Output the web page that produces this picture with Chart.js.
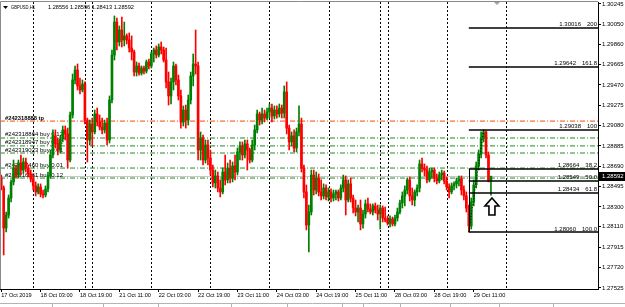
<!DOCTYPE html>
<html>
<head>
<meta charset="utf-8">
<title>GBPUSD,H1</title>
<script src="https://cdn.jsdelivr.net/npm/chart.js@4.4.1/dist/chart.umd.min.js"></script>
<style>
  html, body { margin: 0; padding: 0; background: #fff; }
  #wrap { width: 625px; height: 307px; }
</style>
</head>
<body>
<div id="wrap"><canvas id="mtChart" width="625" height="307"></canvas></div>
<script>
// GBPUSD H1 bars, 17 Oct 11:00 .. 29 Oct 18:00
const opens = [
  1.28577, 1.28482, 1.28098, 1.28223, 1.28386, 1.28540, 1.28673, 1.28606, 1.28721, 1.28654,
  1.28731, 1.28673, 1.28616, 1.28568, 1.28502, 1.28444, 1.28492, 1.28425, 1.28415, 1.28473,
  1.28597, 1.28798, 1.28981, 1.28904, 1.28846, 1.28952, 1.29038, 1.29000, 1.28750, 1.29181,
  1.29517, 1.29612, 1.29460, 1.29421, 1.29479, 1.29133, 1.28942, 1.29095, 1.29019, 1.29191,
  1.29114, 1.29066, 1.29038, 1.29104, 1.28942, 1.29325, 1.29756, 1.30072, 1.29881, 1.29996,
  1.29900, 1.29939, 1.29900, 1.29823, 1.29785, 1.29593, 1.29651, 1.29583, 1.29631, 1.29602,
  1.29689, 1.29651, 1.29766, 1.29804, 1.29756, 1.29833, 1.29804, 1.29708, 1.29498, 1.29364,
  1.29498, 1.29651, 1.29517, 1.29364, 1.29114, 1.29229, 1.29133, 1.29325, 1.29555, 1.29670,
  1.29651, 1.28846, 1.28961, 1.28750, 1.28894, 1.28769, 1.28654, 1.28530, 1.28597, 1.28482,
  1.28444, 1.28635, 1.28559, 1.28673, 1.28577, 1.28693, 1.28635, 1.28827, 1.28885, 1.28798,
  1.28904, 1.28846, 1.28750, 1.28894, 1.29038, 1.29191, 1.29133, 1.29191, 1.29152, 1.29210,
  1.29248, 1.29172, 1.29229, 1.29191, 1.29248, 1.29200, 1.29402, 1.29056, 1.28923, 1.28981,
  1.28865, 1.29019, 1.29095, 1.28673, 1.28444, 1.28127, 1.28252, 1.28606, 1.28463, 1.28577,
  1.28444, 1.28406, 1.28482, 1.28396, 1.28444, 1.28386, 1.28425, 1.28444, 1.28386, 1.28482,
  1.28559, 1.28367, 1.28521, 1.28386, 1.28290, 1.28252, 1.28290, 1.28137, 1.28233, 1.28329,
  1.28281, 1.28252, 1.28310, 1.28271, 1.28233, 1.28290, 1.28194, 1.28175, 1.28146, 1.28185,
  1.28137, 1.28194, 1.28252, 1.28338, 1.28406, 1.28463, 1.28559, 1.28406, 1.28367, 1.28444,
  1.28482, 1.28712, 1.28673, 1.28654, 1.28559, 1.28635, 1.28654, 1.28577, 1.28549, 1.28606,
  1.28625, 1.28549, 1.28492, 1.28444, 1.28502, 1.28521, 1.28549, 1.28568, 1.28463, 1.28406,
  1.28290, 1.28118, 1.28348, 1.28511, 1.28693, 1.28808, 1.28961, 1.29019, 1.28798, 1.28556
];
const highs = [
  1.28606, 1.28502, 1.28252, 1.28415, 1.28559, 1.28750, 1.28702, 1.28750, 1.28798, 1.28769,
  1.28769, 1.28702, 1.28654, 1.28606, 1.28540, 1.28521, 1.28521, 1.28463, 1.28502, 1.28635,
  1.28846, 1.29038, 1.29038, 1.28961, 1.28981, 1.29076, 1.29076, 1.29056, 1.29210, 1.29574,
  1.29651, 1.29670, 1.29535, 1.29517, 1.29498, 1.29152, 1.29133, 1.29152, 1.29229, 1.29248,
  1.29181, 1.29152, 1.29133, 1.29152, 1.29364, 1.29804, 1.30130, 1.30110, 1.30034, 1.30120,
  1.30072, 1.29958, 1.29967, 1.29939, 1.29804, 1.29689, 1.29679, 1.29651, 1.29651, 1.29708,
  1.29718, 1.29785, 1.29823, 1.29843, 1.29862, 1.29881, 1.29833, 1.29823, 1.29593, 1.29535,
  1.29689, 1.29670, 1.29564, 1.29421, 1.29268, 1.29277, 1.29373, 1.29593, 1.29766, 1.29996,
  1.29689, 1.29019, 1.28990, 1.28942, 1.28942, 1.28846, 1.28702, 1.28654, 1.28635, 1.28559,
  1.28673, 1.28798, 1.28721, 1.28750, 1.28731, 1.28798, 1.28865, 1.28923, 1.28923, 1.28942,
  1.28942, 1.28865, 1.28942, 1.29085, 1.29229, 1.29210, 1.29248, 1.29229, 1.29248, 1.29287,
  1.29287, 1.29268, 1.29268, 1.29287, 1.29277, 1.29460, 1.29498, 1.29085, 1.29019, 1.29038,
  1.29056, 1.29268, 1.29152, 1.28702, 1.28511, 1.28319, 1.28654, 1.28654, 1.28635, 1.28616,
  1.28559, 1.28521, 1.28511, 1.28482, 1.28473, 1.28463, 1.28463, 1.28463, 1.28511, 1.28606,
  1.28597, 1.28559, 1.28577, 1.28415, 1.28367, 1.28319, 1.28367, 1.28271, 1.28367, 1.28386,
  1.28329, 1.28329, 1.28338, 1.28319, 1.28319, 1.28310, 1.28300, 1.28214, 1.28214, 1.28204,
  1.28223, 1.28290, 1.28367, 1.28444, 1.28502, 1.28577, 1.28587, 1.28482, 1.28463, 1.28511,
  1.28750, 1.28769, 1.28712, 1.28693, 1.28673, 1.28673, 1.28673, 1.28616, 1.28635, 1.28654,
  1.28644, 1.28587, 1.28521, 1.28530, 1.28540, 1.28577, 1.28597, 1.28597, 1.28502, 1.28444,
  1.28319, 1.28386, 1.28559, 1.28731, 1.28846, 1.29019, 1.29038, 1.29030, 1.28827, 1.28596
];
const lows = [
  1.28463, 1.27840, 1.28061, 1.28194, 1.28348, 1.28511, 1.28577, 1.28577, 1.28606, 1.28625,
  1.28635, 1.28587, 1.28540, 1.28463, 1.28406, 1.28425, 1.28396, 1.28386, 1.28396, 1.28444,
  1.28577, 1.28769, 1.28865, 1.28798, 1.28817, 1.28923, 1.28942, 1.28673, 1.28731, 1.29152,
  1.29479, 1.29421, 1.29383, 1.29402, 1.29095, 1.28731, 1.28894, 1.28885, 1.29000, 1.29076,
  1.29038, 1.29000, 1.29009, 1.28894, 1.28913, 1.29296, 1.29708, 1.29804, 1.29843, 1.29833,
  1.29843, 1.29862, 1.29785, 1.29708, 1.29555, 1.29555, 1.29564, 1.29564, 1.29574, 1.29583,
  1.29622, 1.29631, 1.29689, 1.29727, 1.29737, 1.29766, 1.29689, 1.29440, 1.29277, 1.29287,
  1.29421, 1.29469, 1.29325, 1.29056, 1.29076, 1.29056, 1.29085, 1.29287, 1.29460, 1.29574,
  1.28750, 1.28750, 1.28702, 1.28721, 1.28702, 1.28606, 1.28492, 1.28482, 1.28444, 1.28396,
  1.28425, 1.28511, 1.28530, 1.28530, 1.28540, 1.28559, 1.28606, 1.28750, 1.28750, 1.28769,
  1.28654, 1.28721, 1.28731, 1.28846, 1.29009, 1.29085, 1.29095, 1.29114, 1.29133, 1.29152,
  1.29114, 1.29143, 1.29152, 1.29162, 1.29152, 1.29152, 1.29000, 1.28846, 1.28885, 1.28827,
  1.28827, 1.28981, 1.28635, 1.28386, 1.28080, 1.27869, 1.28223, 1.28415, 1.28425, 1.28406,
  1.28367, 1.28377, 1.28367, 1.28357, 1.28348, 1.28357, 1.28367, 1.28357, 1.28367, 1.28444,
  1.28223, 1.28348, 1.28348, 1.28242, 1.28214, 1.28156, 1.28080, 1.28098, 1.28194, 1.28252,
  1.28233, 1.28223, 1.28242, 1.28175, 1.28089, 1.28156, 1.28156, 1.28127, 1.28108, 1.28118,
  1.28118, 1.28165, 1.28233, 1.28290, 1.28310, 1.28425, 1.28357, 1.28319, 1.28310, 1.28406,
  1.28444, 1.28635, 1.28597, 1.28530, 1.28540, 1.28577, 1.28540, 1.28521, 1.28530, 1.28559,
  1.28521, 1.28463, 1.28386, 1.28425, 1.28463, 1.28482, 1.28502, 1.28415, 1.28367, 1.28252,
  1.28060, 1.28089, 1.28310, 1.28482, 1.28654, 1.28769, 1.28923, 1.28769, 1.28540, 1.28413
];
const closes = [
  1.28482, 1.28098, 1.28223, 1.28386, 1.28540, 1.28673, 1.28606, 1.28721, 1.28654, 1.28731,
  1.28673, 1.28616, 1.28568, 1.28502, 1.28444, 1.28492, 1.28425, 1.28415, 1.28473, 1.28597,
  1.28798, 1.28981, 1.28904, 1.28846, 1.28952, 1.29038, 1.29000, 1.28750, 1.29181, 1.29517,
  1.29612, 1.29460, 1.29421, 1.29479, 1.29133, 1.28942, 1.29095, 1.29019, 1.29191, 1.29114,
  1.29066, 1.29038, 1.29104, 1.28942, 1.29325, 1.29756, 1.30072, 1.29881, 1.29996, 1.29900,
  1.29939, 1.29900, 1.29823, 1.29785, 1.29593, 1.29651, 1.29583, 1.29631, 1.29602, 1.29689,
  1.29651, 1.29766, 1.29804, 1.29756, 1.29833, 1.29804, 1.29708, 1.29498, 1.29364, 1.29498,
  1.29651, 1.29517, 1.29364, 1.29114, 1.29229, 1.29133, 1.29325, 1.29555, 1.29670, 1.29651,
  1.28846, 1.28961, 1.28750, 1.28894, 1.28769, 1.28654, 1.28530, 1.28597, 1.28482, 1.28444,
  1.28635, 1.28559, 1.28673, 1.28577, 1.28693, 1.28635, 1.28827, 1.28885, 1.28798, 1.28904,
  1.28846, 1.28750, 1.28894, 1.29038, 1.29191, 1.29133, 1.29191, 1.29152, 1.29210, 1.29248,
  1.29172, 1.29229, 1.29191, 1.29248, 1.29200, 1.29402, 1.29056, 1.28923, 1.28981, 1.28865,
  1.29019, 1.29095, 1.28673, 1.28444, 1.28127, 1.28252, 1.28606, 1.28463, 1.28577, 1.28444,
  1.28406, 1.28482, 1.28396, 1.28444, 1.28386, 1.28425, 1.28444, 1.28386, 1.28482, 1.28559,
  1.28367, 1.28521, 1.28386, 1.28290, 1.28252, 1.28290, 1.28137, 1.28233, 1.28329, 1.28281,
  1.28252, 1.28310, 1.28271, 1.28233, 1.28290, 1.28194, 1.28175, 1.28146, 1.28185, 1.28137,
  1.28194, 1.28252, 1.28338, 1.28406, 1.28463, 1.28559, 1.28406, 1.28367, 1.28444, 1.28482,
  1.28712, 1.28673, 1.28654, 1.28559, 1.28635, 1.28654, 1.28577, 1.28549, 1.28606, 1.28625,
  1.28549, 1.28492, 1.28444, 1.28502, 1.28521, 1.28549, 1.28568, 1.28463, 1.28406, 1.28290,
  1.28118, 1.28348, 1.28511, 1.28693, 1.28808, 1.28961, 1.29019, 1.28798, 1.28556, 1.28592
];

// time axis: one slot per hourly bar, the empty slots on the right are the chart shift
const slotCount = 243;
const xTickIdx = [0, 16, 32, 48, 64, 80, 96, 112, 128, 144, 160, 176, 192];
const xTickText = ["17 Oct 2019", "18 Oct 03:00", "18 Oct 19:00", "21 Oct 11:00", "22 Oct 03:00",
  "22 Oct 19:00", "23 Oct 11:00", "24 Oct 03:00", "24 Oct 19:00", "25 Oct 11:00",
  "28 Oct 03:00", "28 Oct 19:00", "29 Oct 11:00"];
const daySeparators = [13, 34, 37, 61, 85, 109, 133, 154, 157, 181, 205];

// price axis
const yMin = 1.27514, yMax = 1.30264;
const yTickVals = [1.30245, 1.30050, 1.29860, 1.29665, 1.29470, 1.29275, 1.29080, 1.28885,
  1.28690, 1.28495, 1.28300, 1.28110, 1.27915, 1.27720, 1.27525];

// trade lines
const tpPrice = 1.29123;
const tpLabel = "#242318888 tp";
const buyPrices = [1.28961, 1.28885, 1.28817, 1.28673, 1.28577];
const buyLabels = ["#242318864 buy 0.12", "#242318947 buy 0.12", "#242319023 buy 0.01",
  "#242317460 buy 0.01", "#242316161 buy 0.12"];

// fibonacci levels
const fibStartBar = 190;
const fibLowBar = 190, fibHighBar = 196;
const fibPrices = [1.30016, 1.29642, 1.29038, 1.28664, 1.28549, 1.28434, 1.28060];
const fibLevels = ["200", "161.8", "100", "38.2", "50.0", "61.8", "100.0"];

// arrow object
const arrowBar = 199, arrowPrice = 1.28386;

const upColor = "#008000";
const downColor = "#ff0000";
const FONT = "'Liberation Sans', Arial, sans-serif";

const lastIdx = closes.length - 1;
const barColors = closes.map((c, i) => (c >= opens[i] ? upColor : downColor));
const wickData = lows.map((l, i) => [l, highs[i]]);
const bodyData = opens.map((o, i) => [Math.min(o, closes[i]), Math.max(o, closes[i])]);
const slotLabels = Array.from({ length: slotCount }, (_, i) => String(i));

function hline(ctx, x1, x2, yy) {
  ctx.beginPath();
  ctx.moveTo(x1, yy);
  ctx.lineTo(x2, yy);
  ctx.stroke();
}

const mtOverlay = {
  id: "mtOverlay",
  beforeDatasetsDraw(chart) {
    const { ctx, chartArea: a, scales: { x, y } } = chart;
    ctx.save();

    // day separators
    ctx.strokeStyle = "#000";
    ctx.lineWidth = 1;
    ctx.setLineDash([2, 2]);
    daySeparators.forEach(i => {
      const px = Math.round(x.getPixelForValue(i)) + 0.5;
      ctx.beginPath();
      ctx.moveTo(px, a.top);
      ctx.lineTo(px, a.bottom);
      ctx.stroke();
    });

    // bid line
    ctx.setLineDash([]);
    ctx.strokeStyle = "#c8c8c8";
    hline(ctx, a.left, a.right, y.getPixelForValue(closes[lastIdx]));

    // take profit + buy orders
    ctx.setLineDash([5, 2, 1, 2]);
    ctx.strokeStyle = "#ff4500";
    hline(ctx, a.left, a.right, y.getPixelForValue(tpPrice));
    ctx.strokeStyle = "#238b23";
    buyPrices.forEach(p => hline(ctx, a.left, a.right, y.getPixelForValue(p)));

    ctx.fillStyle = "#000";
    ctx.textAlign = "left";
    ctx.textBaseline = "alphabetic";
    ctx.font = "bold 6px " + FONT;
    ctx.fillText(tpLabel, 5, y.getPixelForValue(tpPrice) - 1.5, 39);
    ctx.font = "6px " + FONT;
    buyLabels.forEach((t, i) => {
      ctx.fillText(t, 5, y.getPixelForValue(buyPrices[i]) - 1.5, 58);
    });
    ctx.restore();
  },
  afterDatasetsDraw(chart) {
    const { ctx, chartArea: a, scales: { x, y } } = chart;
    ctx.save();

    // fibo levels
    const fx = x.getPixelForValue(fibStartBar);
    ctx.strokeStyle = "#000";
    ctx.lineWidth = 1.5;
    fibPrices.forEach(p => hline(ctx, fx, a.right, y.getPixelForValue(p)));
    ctx.lineWidth = 1;
    ctx.beginPath();
    ctx.moveTo(Math.round(fx) + 0.5, y.getPixelForValue(fibPrices[3]));
    ctx.lineTo(Math.round(fx) + 0.5, y.getPixelForValue(fibPrices[6]));
    ctx.stroke();
    ctx.setLineDash([1, 2]);
    ctx.beginPath();
    ctx.moveTo(x.getPixelForValue(fibLowBar), y.getPixelForValue(fibPrices[6]));
    ctx.lineTo(x.getPixelForValue(fibHighBar), y.getPixelForValue(fibPrices[2]));
    ctx.stroke();
    ctx.setLineDash([]);

    ctx.fillStyle = "#000";
    ctx.font = "6px " + FONT;
    ctx.textBaseline = "alphabetic";
    ctx.textAlign = "right";
    fibPrices.forEach((p, i) => {
      const py = y.getPixelForValue(p) - 1.5;
      const lx = a.right - 1;
      ctx.fillText(fibLevels[i], lx, py);
      const lw = ctx.measureText(fibLevels[i]).width;
      ctx.fillText(p.toFixed(5), lx - lw - 6, py);
    });

    // hollow up arrow
    const ax = x.getPixelForValue(arrowBar) + 1;
    const ay = y.getPixelForValue(arrowPrice);
    ctx.beginPath();
    ctx.moveTo(ax, ay);
    ctx.lineTo(ax + 7, ay + 8);
    ctx.lineTo(ax + 3, ay + 8);
    ctx.lineTo(ax + 3, ay + 17);
    ctx.lineTo(ax - 3, ay + 17);
    ctx.lineTo(ax - 3, ay + 8);
    ctx.lineTo(ax - 7, ay + 8);
    ctx.closePath();
    ctx.fillStyle = "#fff";
    ctx.fill();
    ctx.lineWidth = 1.6;
    ctx.strokeStyle = "#000";
    ctx.stroke();
    ctx.restore();
  },
  afterDraw(chart) {
    const { ctx, chartArea: a, scales: { y } } = chart;
    ctx.save();

    // frame top/left
    ctx.strokeStyle = "#8a8a8a";
    ctx.lineWidth = 1;
    ctx.beginPath();
    ctx.moveTo(a.left + 0.5, a.bottom);
    ctx.lineTo(a.left + 0.5, a.top - 0.5);
    ctx.lineTo(a.right, a.top - 0.5);
    ctx.stroke();

    // chart shift marker
    ctx.fillStyle = "#a0a0a0";
    ctx.beginPath();
    ctx.moveTo(494, a.top);
    ctx.lineTo(500, a.top);
    ctx.lineTo(497, a.top + 3);
    ctx.closePath();
    ctx.fill();

    // header
    ctx.fillStyle = "#000";
    ctx.beginPath();
    ctx.moveTo(3, 6);
    ctx.lineTo(8, 6);
    ctx.lineTo(5.5, 9);
    ctx.closePath();
    ctx.fill();
    ctx.font = "6px " + FONT;
    ctx.textAlign = "left";
    ctx.textBaseline = "middle";
    ctx.fillText("GBPUSD,H1", 11, 7.5, 24);
    const ohlc = [opens[lastIdx], highs[lastIdx], lows[lastIdx], closes[lastIdx]]
      .map(v => v.toFixed(5)).join(" ");
    ctx.fillText(ohlc, 48, 7.5, 86);

    // current price box
    const py = y.getPixelForValue(closes[lastIdx]);
    ctx.fillStyle = "#000";
    ctx.fillRect(a.right + 1, Math.round(py) - 4, chart.width - a.right - 1, 9);
    ctx.fillStyle = "#fff";
    ctx.fillText(closes[lastIdx].toFixed(5), a.right + 4, Math.round(py) + 0.5);

    // tab strip at the bottom
    ctx.strokeStyle = "#b4b4b4";
    hline(ctx, 0, chart.width, 303.5);
    [52, 103, 158, 231, 287, 342, 363, 400, 450, 499, 553].forEach(tx => {
      ctx.beginPath();
      ctx.moveTo(tx + 0.5, 303.5);
      ctx.lineTo(tx + 0.5, 307);
      ctx.stroke();
    });
    ctx.restore();
  }
};

Chart.defaults.font.family = FONT;
Chart.defaults.color = "#000";

const ctx = document.getElementById("mtChart");
new Chart(ctx.getContext("2d"), {
  type: "bar",
  data: {
    labels: slotLabels,
    datasets: [
      {
        label: "wick",
        data: wickData,
        backgroundColor: barColors,
        barThickness: 1,
        grouped: false,
        borderWidth: 0
      },
      {
        label: "body",
        data: bodyData,
        backgroundColor: barColors,
        barThickness: 2,
        grouped: false,
        borderWidth: 0,
        minBarLength: 1
      }
    ]
  },
  options: {
    responsive: false,
    animation: false,
    events: [],
    layout: { padding: { left: 0, top: 2, right: 0, bottom: 0 } },
    plugins: {
      legend: { display: false },
      tooltip: { enabled: false }
    },
    scales: {
      x: {
        type: "category",
        offset: true,
        grid: { drawOnChartArea: false, drawTicks: true, tickLength: 3, color: "#000", offset: false },
        border: { display: true, color: "#000" },
        ticks: {
          autoSkip: false,
          maxRotation: 0,
          minRotation: 0,
          align: "start",
          padding: 0,
          color: "#000",
          font: { size: 5.6 },
          callback: value => xTickText[xTickIdx.indexOf(value)] || ""
        },
        afterBuildTicks: axis => {
          axis.ticks = xTickIdx.map(v => ({ value: v }));
        },
        afterFit: scale => {
          scale.height = 18;
          scale.paddingLeft = 0;
          scale.paddingRight = 0;
        }
      },
      y: {
        type: "linear",
        position: "right",
        min: yMin,
        max: yMax,
        grid: { drawOnChartArea: false, drawTicks: true, tickLength: 3, color: "#000" },
        border: { display: true, color: "#000" },
        ticks: {
          padding: 1,
          color: "#000",
          font: { size: 6 },
          callback: value => value.toFixed(5)
        },
        afterBuildTicks: axis => {
          axis.ticks = yTickVals.map(v => ({ value: v }));
        },
        afterFit: scale => {
          scale.width = 27;
          scale.paddingTop = 0;
          scale.paddingBottom = 0;
        }
      }
    }
  },
  plugins: [mtOverlay]
});
</script>
</body>
</html>
